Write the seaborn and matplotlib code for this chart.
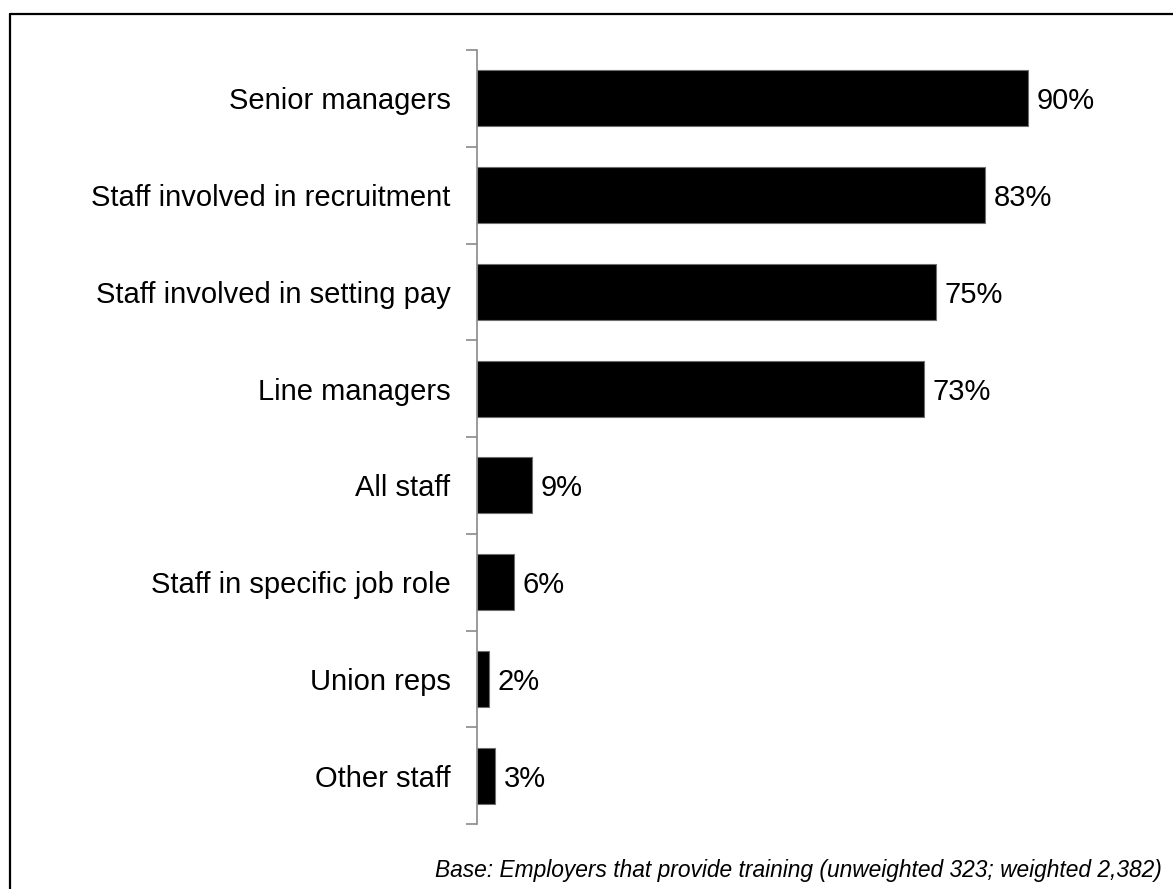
import numpy as np
import pandas as pd
import matplotlib
matplotlib.use("Agg")
import matplotlib.pyplot as plt
from matplotlib.lines import Line2D
import seaborn as sns

categories = [
    "Senior managers",
    "Staff involved in recruitment",
    "Staff involved in setting pay",
    "Line managers",
    "All staff",
    "Staff in specific job role",
    "Union reps",
    "Other staff",
]
values = [90, 83, 75, 73, 9, 6, 2, 3]
footnote = "Base: Employers that provide training (unweighted 323; weighted 2,382)"

sns.set_style("white")
plt.rcParams["font.family"] = ["Liberation Sans", "DejaVu Sans"]

df = pd.DataFrame({"group": categories, "pct": values})

W, H, DPI = 1173, 889, 100
fig = plt.figure(figsize=(W / DPI, H / DPI), dpi=DPI)
ax = fig.add_axes([477 / W, 1 - 824 / H, 612 / W, (824 - 50) / H])

sns.barplot(data=df, x="pct", y="group", order=categories, orient="h",
            color="black", edgecolor="#6e6e6e", linewidth=0.8,
            width=0.58, ax=ax, saturation=1)

ax.set_xlim(0, 100)
ax.set_ylim(len(categories) - 0.5, -0.5)
ax.set_xlabel("")
ax.set_ylabel("")
ax.set_xticks([])

# category labels on major ticks, boundary tick marks on minor ticks
ax.set_yticks(range(len(categories)))
ax.set_yticklabels(categories, fontsize=21, color="black")
ax.tick_params(axis="y", which="major", length=0, pad=19, labelcolor="black")
ax.set_yticks(np.arange(-0.5, len(categories), 1.0), minor=True)
ax.tick_params(axis="y", which="minor", length=8, width=1.2,
               color="#8a8a8a", left=True)

for side in ["top", "right", "bottom"]:
    ax.spines[side].set_visible(False)
ax.spines["left"].set_color("#8a8a8a")
ax.spines["left"].set_linewidth(1.2)

for i, v in enumerate(values):
    ax.annotate(f"{v}%", xy=(v, i), xytext=(6, 0), textcoords="offset points",
                ha="left", va="center_baseline", fontsize=21, color="black")

fig.text(1162 / W, 1 - 877 / H, footnote, ha="right", va="baseline",
         fontsize=16.4, style="italic", color="black")

# outer frame (left and top edges)
fx = 10 / W
fy = 1 - 14 / H
fig.add_artist(Line2D([fx, fx], [0, fy], transform=fig.transFigure,
                      color="black", linewidth=1.6))
fig.add_artist(Line2D([fx, 1], [fy, fy], transform=fig.transFigure,
                      color="black", linewidth=1.6))

fig.savefig("out.png", dpi=DPI, facecolor="white")
